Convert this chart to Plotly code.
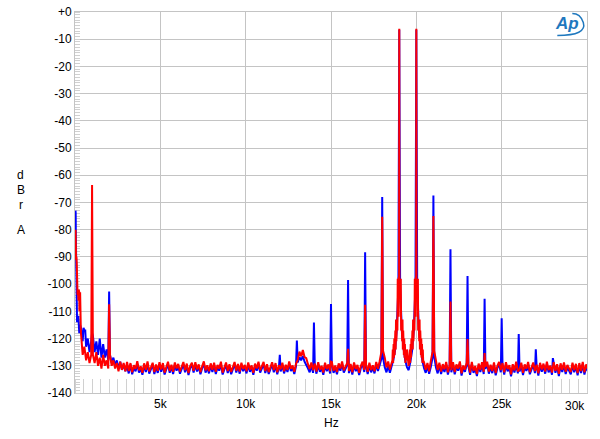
import numpy as np
import plotly.graph_objects as go

# ---------------- data ----------------
# noise-floor grid (kHz): 0.05, 0.15, ..., 30.05
floor_khz = np.round(np.arange(0.05, 30.1, 0.1), 2)

red_floor_db = [
    -86, -104, -103, -118, -126, -123, -128, -125, -129, -126,
    -126, -129, -125, -130, -127, -131, -126, -130, -128, -131,
    -126, -130, -128, -131, -129, -132, -128.5, -131.5, -129, -132,
    -128.6, -131.9, -129.0, -132.4, -129.8, -131.2, -128.3, -131.7, -130.2, -132.6,
    -129.1, -131.5, -128.4, -132.0, -130.6, -128.9, -132.3, -129.5, -131.8, -128.7,
    -131.4, -129.0, -132.5, -130.1, -128.5, -131.9, -129.6, -132.2, -128.8, -131.0,
    -129.3, -132.1, -130.4, -128.6, -131.6, -129.2, -132.7, -130.0, -128.9, -131.8,
    -128.7, -131.3, -129.5, -132.4, -130.2, -128.4, -131.7, -129.8, -132.0, -129.1,
    -131.5, -128.9, -132.2, -129.7, -131.0, -128.5, -132.5, -130.3, -128.8, -131.9,
    -129.4, -132.3, -130.0, -128.6, -131.8, -129.3, -132.1, -128.9, -131.2, -129.7,
    -132.0, -128.8, -131.4, -129.9, -132.6, -129.2, -131.0, -128.5, -131.7, -130.1,
    -128.6, -131.9, -129.4, -132.3, -130.5, -128.7, -131.6, -129.0, -132.4, -129.8,
    -131.3, -128.9, -132.0, -129.6, -131.5, -128.4, -131.1, -129.9, -132.2, -129.3,
    -127.8, -124.8, -126.5, -124.2, -126.8, -127.2, -129.4, -131.2, -128.8, -131.6,
    -129.2, -132.1, -128.7, -131.4, -130.0, -132.5, -128.9, -131.2, -129.5, -132.0,
    -128.6, -131.8, -129.9, -132.3, -129.1, -131.0, -128.4, -131.7, -130.2, -128.9,
    -131.9, -129.3, -132.4, -128.8, -131.2, -129.7, -132.6, -130.0, -128.5, -131.5,
    -129.4, -132.2, -128.9, -131.6, -129.8, -132.0, -128.6, -131.1, -128.3, -125.0,
    -124.5, -127.0, -130.6, -128.4, -131.4, -129.0, -125.0, -121.0, -116.0, -100.0,
    -100.0, -116.0, -121.0, -125.0, -124.0, -130.0, -125.0, -121.0, -116.0, -100.0,
    -100.0, -116.0, -121.0, -125.0, -128.6, -131.5, -129.0, -132.0, -128.2, -124.8,
    -124.5, -128.0, -131.6, -128.9, -132.1, -129.4, -131.3, -128.6, -132.4, -129.8,
    -131.6, -128.7, -132.3, -129.5, -131.0, -128.4, -132.8, -129.9, -131.4, -128.8,
    -129.3, -132.5, -128.6, -131.8, -130.1, -133.0, -129.2, -131.5, -128.7, -132.2,
    -130.4, -128.5, -132.1, -129.6, -131.9, -128.8, -132.7, -130.0, -128.6, -131.6,
    -129.0, -132.4, -128.7, -131.2, -129.8, -133.1, -129.4, -131.7, -128.5, -132.0,
    -131.3, -128.9, -132.6, -129.5, -131.1, -128.6, -132.3, -130.2, -128.8, -131.9,
    -129.6, -132.8, -128.9, -131.4, -129.2, -132.1, -128.5, -131.6, -129.9, -132.5,
    -128.7, -131.8, -129.4, -133.0, -129.1, -131.5, -128.8, -132.2, -129.7, -131.0,
    -132.3, -128.9, -131.6, -129.3, -132.7, -129.0, -131.9, -128.6, -132.4, -129.5,
    -131.2,
]

blue_floor_db = [
    -82, -112, -118, -116, -121, -117, -123, -120, -125, -121,
    -119, -125, -121, -126, -120, -127, -122, -127, -124, -128,
    -126, -129, -127, -130, -128, -131, -128.5, -131.5, -129.5, -132,
    -130.2, -132.8, -129.5, -133.1, -130.6, -132.0, -129.2, -132.5, -130.9, -133.3,
    -129.8, -132.3, -129.3, -132.9, -131.2, -129.6, -133.0, -130.4, -132.6, -129.5,
    -132.2, -129.7, -133.2, -130.8, -129.4, -132.6, -130.3, -133.0, -129.6, -131.8,
    -130.1, -132.9, -131.1, -129.5, -132.4, -130.0, -133.4, -130.7, -129.7, -132.5,
    -129.5, -132.1, -130.3, -133.1, -130.9, -129.2, -132.5, -130.6, -132.8, -129.9,
    -132.3, -129.7, -133.0, -130.5, -131.8, -129.3, -133.2, -131.0, -129.6, -132.7,
    -130.2, -133.1, -130.8, -129.4, -132.5, -130.1, -132.9, -129.7, -132.0, -130.5,
    -132.8, -129.6, -132.2, -130.7, -133.3, -130.0, -131.8, -129.3, -132.5, -130.9,
    -129.4, -132.7, -130.2, -133.0, -131.3, -129.5, -132.4, -129.8, -133.1, -130.6,
    -132.1, -129.7, -132.8, -130.4, -132.3, -129.2, -131.9, -130.7, -133.0, -130.1,
    -128.8, -126.8, -128.0, -126.4, -128.5, -129.6, -130.9, -132.4, -129.9, -132.6,
    -130.0, -132.9, -129.5, -132.2, -130.8, -133.3, -129.7, -132.0, -130.3, -132.8,
    -129.4, -132.6, -130.7, -133.1, -129.9, -131.8, -129.2, -132.5, -131.0, -129.7,
    -132.7, -130.1, -133.2, -129.6, -132.0, -130.5, -133.4, -130.8, -129.3, -132.3,
    -130.2, -133.0, -129.7, -132.4, -130.6, -132.8, -129.4, -131.9, -129.8, -127.5,
    -127.0, -130.5, -132.4, -130.0, -132.6, -130.2, -128.0, -124.5, -117.0, -101.0,
    -101.0, -117.0, -123.5, -128.0, -130.5, -131.6, -128.5, -124.5, -117.0, -101.0,
    -101.0, -117.0, -123.5, -128.0, -130.8, -132.6, -130.0, -132.9, -130.4, -127.0,
    -126.5, -130.6, -132.8, -129.7, -133.0, -130.4, -132.3, -129.5, -133.2, -130.6,
    -132.4, -129.5, -133.1, -130.3, -131.8, -129.2, -133.6, -130.7, -132.2, -129.6,
    -130.1, -133.3, -129.4, -132.6, -130.9, -133.8, -130.0, -132.3, -129.5, -133.0,
    -131.2, -129.3, -132.9, -130.4, -132.7, -129.6, -133.5, -130.8, -129.4, -132.4,
    -129.8, -133.2, -129.5, -132.0, -130.6, -133.9, -130.2, -132.5, -129.3, -132.8,
    -132.1, -129.7, -133.4, -130.3, -131.9, -129.4, -133.1, -131.0, -129.6, -132.7,
    -130.4, -133.6, -129.7, -132.2, -130.0, -132.9, -129.3, -132.4, -130.7, -133.3,
    -129.5, -132.6, -130.2, -133.8, -129.9, -132.3, -129.6, -133.0, -130.5, -131.8,
    -133.1, -129.7, -132.4, -130.1, -133.5, -129.8, -132.7, -129.4, -133.2, -130.3,
    -132.0,
]

# discrete spectral lines / low-frequency detail (kHz, dBr)
blue_peak_khz = [0.01, 0.02, 0.03, 0.04, 0.06, 0.08, 0.10, 0.12, 0.20, 0.30, 0.50, 0.60,
                 1.0, 2.0, 12.0, 13.0, 14.0, 15.0, 16.0, 17.0, 18.0, 19.0, 20.0,
                 21.0, 22.0, 23.0, 24.0, 25.0, 26.0, 27.0, 28.0]
blue_peak_db = [-80, -76, -73, -74, -88, -100, -106, -114, -112, -115, -116, -117,
                -118, -102.7, -126.0, -120.7, -114.1, -107.3, -98.5, -88.3, -68.0, -6.5, -6.5,
                -67.4, -87.2, -97.0, -105.4, -112.5, -118.3, -123.9, -127.2]

red_peak_khz = [0.01, 0.02, 0.03, 0.04, 0.06, 0.08, 0.10, 0.12, 0.14, 0.18, 0.20, 0.22,
                0.26, 0.30, 0.34,
                1.0, 2.0, 15.0, 16.0, 17.0, 18.0, 19.0, 20.0,
                21.0, 22.0, 23.0, 24.0]
red_peak_db = [-86, -82, -80, -84, -91, -90, -92, -97, -103, -102, -106, -102,
               -110, -103, -116,
               -63.6, -107.4, -128.5, -123.8, -107.6, -75.2, -6.2, -6.2,
               -75.0, -106.4, -120.2, -125.3]

# red modulation skirt around each of the two test tones (offset kHz, dBr)
tone_khz = [19.0, 20.0]
skirt_offset_khz = [-0.40, -0.38, -0.36, -0.33, -0.31, -0.29, -0.27, -0.23, -0.21, -0.19,
                    -0.17, -0.13, -0.11, -0.09, -0.07, -0.03, -0.01,
                    0.01, 0.03, 0.07, 0.09, 0.11, 0.13, 0.17, 0.19, 0.21, 0.23,
                    0.27, 0.29, 0.31, 0.33, 0.36, 0.38, 0.40]
skirt_db = [-128, -124, -129, -122, -127, -120, -126, -117, -124, -113,
            -121, -113, -117, -98, -112, -97.5, -105,
            -105, -97.5, -112, -98, -117, -113, -121, -113, -124, -117,
            -126, -120, -127, -122, -129, -124, -128]

y_tick_vals = [0, -10, -20, -30, -40, -50, -60, -70, -80, -90, -100, -110, -120, -130, -140]
y_tick_text = ["+0", "-10", "-20", "-30", "-40", "-50", "-60", "-70", "-80", "-90",
               "-100", "-110", "-120", "-130", "-140"]
x_tick_vals = [5, 10, 15, 20, 25, 30]
x_tick_text = ["5k", "10k", "15k", "20k", "25k", "30k"]


def merge(parts):
    f = np.concatenate([np.asarray(p[0], float) for p in parts])
    d = np.concatenate([np.asarray(p[1], float) for p in parts])
    o = np.argsort(f, kind="stable")
    return f[o], d[o]


skirt_parts = [(np.asarray(skirt_offset_khz) + t, skirt_db) for t in tone_khz]
bx, by = merge([(floor_khz, blue_floor_db), (blue_peak_khz, blue_peak_db)])
rx, ry = merge([(floor_khz, red_floor_db), (red_peak_khz, red_peak_db)] + skirt_parts)

GRID = "#c4c4c4"
FONT = "Liberation Sans, Arial, sans-serif"

L, R, T, B = 74.5, 13.3, 11.5, 45.7
PW, PH = 600 - L - R, 439 - T - B


def px(xp):
    return (xp - L) / PW


def py(yp):
    return (439 - B - yp) / PH


fig = go.Figure()
fig.add_trace(go.Scatter(x=bx, y=by, mode="lines", line=dict(color="#0000ff", width=2),
                         showlegend=False, hoverinfo="skip", cliponaxis=False))
fig.add_trace(go.Scatter(x=rx, y=ry, mode="lines", line=dict(color="#ff0000", width=2),
                         showlegend=False, hoverinfo="skip", cliponaxis=False))

fig.update_layout(
    width=600, height=439,
    margin=dict(l=L, r=R, t=T, b=B, autoexpand=False),
    paper_bgcolor="white", plot_bgcolor="white",
    font=dict(family=FONT, size=12, color="black"),
    showlegend=False,
)

fig.update_xaxes(
    range=[0, 30], tickvals=x_tick_vals[:-1], ticktext=x_tick_text[:-1],
    showgrid=True, gridcolor=GRID, gridwidth=1,
    showline=True, linecolor=GRID, linewidth=1, mirror=True,
    ticks="", zeroline=False, layer="below traces",
    minor=dict(dtick=0.5, tick0=0, ticks="inside", ticklen=14, tickcolor="#d0d0d0",
               tickwidth=1, showgrid=False),
    tickfont=dict(size=12),
)
fig.update_yaxes(
    range=[-140, 0], tickvals=y_tick_vals, ticktext=y_tick_text,
    showgrid=True, gridcolor=GRID, gridwidth=1,
    showline=True, linecolor=GRID, linewidth=1, mirror=True,
    ticks="", zeroline=False, layer="below traces",
    minor=dict(dtick=1, ticks="inside", ticklen=5, tickcolor="#d0d0d0",
               tickwidth=1, showgrid=False),
    tickfont=dict(size=12),
)

# last x tick label, right-aligned to the frame like the original
fig.add_annotation(x=30, y=0, xref="x", yref="paper", text=x_tick_text[-1],
                   showarrow=False, xanchor="right", yanchor="top", yshift=-4,
                   font=dict(size=12, family=FONT))
# axis titles
fig.add_annotation(x=0.5, y=py(423), xref="paper", yref="paper", text="Hz",
                   showarrow=False, xanchor="center", yanchor="middle",
                   font=dict(size=12, family=FONT))
for letter, ypix in zip(["d", "B", "r", "A"], [175, 190, 205, 230]):
    fig.add_annotation(x=px(20), y=py(ypix), xref="paper", yref="paper", text=letter,
                       showarrow=False, xanchor="center", yanchor="middle",
                       font=dict(size=12, family=FONT))

# Ap logo
fig.add_annotation(x=px(567), y=py(23), xref="paper", yref="paper",
                   text="<b><i>Ap</i></b>", showarrow=False,
                   font=dict(size=17, color="#1f78be", family=FONT),
                   xanchor="center", yanchor="middle")
fig.add_shape(type="path", xref="paper", yref="paper",
              path=f"M {px(557)},{py(35)} Q {px(587)},{py(35)} {px(583)},{py(22)} "
                   f"Q {px(580)},{py(13)} {px(572)},{py(13)}",
              line=dict(color="#1f78be", width=1.5))

fig.write_html("out.html", config={"displayModeBar": False},
               post_script="document.body.style.margin='0';")
